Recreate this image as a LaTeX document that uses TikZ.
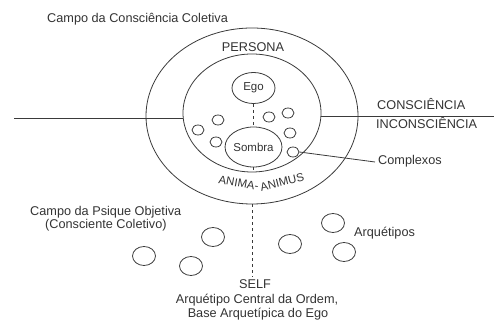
\documentclass[tikz,border=0pt]{standalone}
\usepackage{fontspec}
\setmainfont{Liberation Sans}
\usetikzlibrary{shapes.geometric}
\definecolor{ink}{HTML}{3A3A3A}
\definecolor{txt}{HTML}{333333}
\newcommand{\lblfont}{\fontsize{12.7}{14}\selectfont}
\newcommand{\smallfont}{\fontsize{11.5}{13}\selectfont}
\begin{document}
\begin{tikzpicture}[x=1pt,y=1pt,
  ell/.style={ellipse, draw=ink, line width=0.8pt, inner sep=0pt},
  cpx/.style={ell, minimum width=12pt, minimum height=10pt},
  arq/.style={ell, minimum width=23pt, minimum height=19pt},
  lbl/.style={text=txt, font=\lblfont, inner sep=0pt},
  arclbl/.style={text=txt, font=\smallfont, inner sep=0pt, anchor=base},
  conn/.style={draw=ink, line width=0.8pt},
  dashline/.style={draw=ink, line width=0.8pt, dash pattern=on 3pt off 3pt}]
\useasboundingbox (0,0) rectangle (494,320);
% main ellipses
\node[ell, minimum width=212pt, minimum height=176pt] (outer) at (252,204) {};
\node[ell, minimum width=138pt, minimum height=118pt] (inner) at (252,207) {};
\node[ell, minimum width=43pt, minimum height=31pt, text=txt, font=\smallfont] (ego) at (253.5,232) {Ego};
\node[ell, minimum width=49pt, minimum height=40pt, text=txt, font=\smallfont] (sombra) at (253.5,173) {Sombra};
% complexes
\node[cpx] (c1) at (218,200) {};
\node[cpx] (c2) at (198,190) {};
\node[cpx] (c3) at (216,178) {};
\node[cpx] (c4) at (269,203) {};
\node[cpx] (c5) at (288,207) {};
\node[cpx] (c6) at (290,187) {};
\node[cpx] (c7) at (293,168) {};
% archetypes
\node[arq] (a1) at (213,83) {};
\node[arq] (a2) at (144,64) {};
\node[arq] (a3) at (191,54) {};
\node[arq] (a4) at (290,76) {};
\node[arq] (a5) at (333,97) {};
\node[arq] (a6) at (344,68) {};
% labels
\node[lbl, anchor=base west] (campo) at (47,297) {Campo da Consciência Coletiva};
\node[lbl, anchor=base] (persona) at (253,268) {PERSONA};
\node[lbl, anchor=base west] (consc) at (377,210) {CONSCIÊNCIA};
\node[lbl, anchor=base west] (incon) at (376,191) {INCONSCIÊNCIA};
\node[lbl, anchor=base west] (compl) at (378,155) {Complexos};
\node[lbl, anchor=base west] (psique) at (30,104) {Campo da Psique Objetiva};
\node[lbl, anchor=base west] (coletivo) at (45,91) {(Consciente Coletivo)};
\node[lbl, anchor=base west] (arquet) at (354,83) {Arquétipos};
\node[lbl, anchor=base, inner sep=3pt] (self) at (255,31) {SELF};
\node[lbl, anchor=base] (central) at (257,16) {Arquétipo Central da Ordem,};
\node[lbl, anchor=base] (base) at (258,2) {Base Arquetípica do Ego};
% ANIMA-ANIMUS following the lower arc
\node[arclbl, rotate=-10] (anima) at (238,133) {ANIMA-};
\node[arclbl, rotate=14] (animus) at (283,134) {ANIMUS};
% horizontal consciousness line
\coordinate (lleft) at (14,202);
\coordinate (rright) at (494,204);
\draw[conn] (lleft) -- (lleft -| inner.west);
\draw[conn] (rright -| inner.east) -- (rright);
% complexos pointer
\coordinate (cend) at (375,158);
\draw[conn] (c7.east) -- (cend);
% dashed axis
\draw[dashline] (ego.south) -- (sombra.north);
\draw[dashline] (sombra.south) -- (sombra.south |- inner.south);
\draw[dashline] (outer.south) -- (outer.south |- self.north);
\end{tikzpicture}
\end{document}
